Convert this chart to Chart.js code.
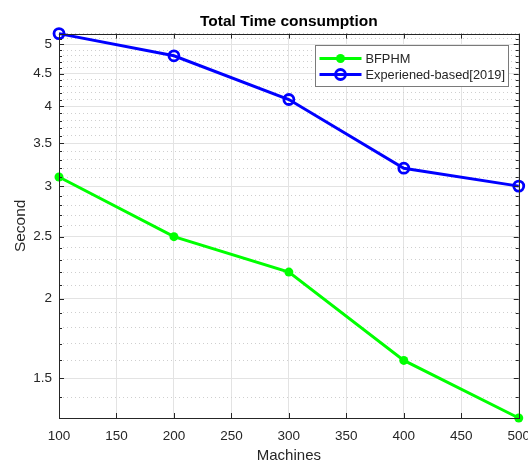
<!DOCTYPE html>
<html>
<head>
<meta charset="utf-8">
<script src="https://cdn.jsdelivr.net/npm/chart.js@4.4.1/dist/chart.umd.min.js"></script>
<style>
  html, body { margin: 0; padding: 0; background: #fff; overflow: hidden; width: 528px; height: 465px; }
  #wrap { width: 540px; height: 465px; }
</style>
</head>
<body>
<div id="wrap"><canvas id="chart" width="540" height="465"></canvas></div>
<script>
// values
const machines = [100, 200, 300, 400, 500];
const bfphm = [3.1, 2.5, 2.2, 1.6, 1.3];
const experienced = [5.2, 4.8, 4.1, 3.2, 3.0];
const seriesNames = ['BFPHM', 'Experiened-based[2019]'];
const yMajor = [1.5, 2, 2.5, 3, 3.5, 4, 4.5, 5];
const xTicks = [100, 150, 200, 250, 300, 350, 400, 450, 500];
const yMin = 1.3, yMax = 5.2;

// minor log ticks every 0.1 (matlab style)
var yMinor = [];
for (var v = 13; v <= 52; v++) yMinor.push(v / 10);

const font = "'Liberation Sans', Arial, sans-serif";
const axisColor = '#262626';

function pts(ys) {
    return machines.map((m, i) => ({ x: m, y: ys[i] }));
}

// box, inward tick marks and legend drawn on top of the chart area
const matlabBox = {
    id: 'matlabBox',
    afterDraw(chart) {
        const ctx = chart.ctx;
        const a = chart.chartArea;
        const xs = chart.scales.x, ys = chart.scales.y;
        ctx.save();
        ctx.strokeStyle = axisColor;
        ctx.lineWidth = 1;
        ctx.beginPath();
        xTicks.forEach(t => {
            const px = Math.round(xs.getPixelForValue(t)) + 0.5;
            ctx.moveTo(px, a.bottom); ctx.lineTo(px, a.bottom - 5);
            ctx.moveTo(px, a.top); ctx.lineTo(px, a.top + 5);
        });
        yMinor.forEach(t => {
            const py = Math.round(ys.getPixelForValue(t)) + 0.5;
            const len = yMajor.includes(t) ? 5 : 3;
            ctx.moveTo(a.left, py); ctx.lineTo(a.left + len, py);
            ctx.moveTo(a.right, py); ctx.lineTo(a.right - len, py);
        });
        ctx.stroke();
        ctx.strokeRect(Math.round(a.left) + 0.5, Math.round(a.top) + 0.5,
            Math.round(a.right - a.left), Math.round(a.bottom - a.top));

        // legend
        const bx = 315.5, by = 45.5, bw = 193, bh = 41;
        ctx.fillStyle = '#fff';
        ctx.fillRect(bx, by, bw, bh);
        ctx.strokeStyle = '#7a7a7a';
        ctx.strokeRect(bx, by, bw, bh);
        ctx.font = '12.8px ' + font;
        ctx.textBaseline = 'middle';
        chart.data.datasets.forEach((ds, i) => {
            const y = by + 13 + i * 16;
            ctx.strokeStyle = ds.borderColor;
            ctx.lineWidth = ds.borderWidth;
            ctx.beginPath();
            ctx.moveTo(bx + 4, y); ctx.lineTo(bx + 46, y);
            ctx.stroke();
            ctx.beginPath();
            ctx.arc(bx + 25, y, ds.pointRadius, 0, Math.PI * 2);
            if (ds.pointBackgroundColor !== 'transparent') {
                ctx.fillStyle = ds.pointBackgroundColor;
                ctx.fill();
            } else {
                ctx.lineWidth = ds.pointBorderWidth;
                ctx.stroke();
            }
            ctx.fillStyle = axisColor;
            ctx.fillText(ds.label, bx + 50, y + 1);
        });
        ctx.restore();
    }
};

const ctx = document.getElementById('chart').getContext('2d');
const myChart = new Chart(ctx, {
    type: 'line',
    data: {
        datasets: [{
            label: seriesNames[0],
            data: pts(bfphm),
            borderColor: '#00ff00',
            backgroundColor: '#00ff00',
            pointBackgroundColor: '#00ff00',
            pointBorderColor: '#00ff00',
            pointRadius: 4.5,
            pointBorderWidth: 0,
            borderWidth: 3,
            tension: 0
        }, {
            label: seriesNames[1],
            data: pts(experienced),
            borderColor: '#0000ff',
            backgroundColor: '#0000ff',
            pointBackgroundColor: 'transparent',
            pointBorderColor: '#0000ff',
            pointRadius: 5,
            pointBorderWidth: 2.8,
            borderWidth: 3,
            tension: 0
        }]
    },
    options: {
        responsive: false,
        animation: false,
        clip: false,
        layout: { padding: { left: 0, right: 0, top: 0, bottom: 0 } },
        plugins: {
            legend: { display: false },
            tooltip: { enabled: false },
            title: {
                display: true,
                text: 'Total Time consumption',
                fullSize: false,
                color: '#000',
                font: { family: font, size: 15.5, weight: 'bold' },
                padding: { top: 12, bottom: 3 }
            }
        },
        scales: {
            x: {
                type: 'linear',
                min: 100,
                max: 500,
                afterBuildTicks: s => { s.ticks = xTicks.map(v => ({ value: v })); },
                afterFit: s => { s.height = 47; },
                grid: { color: '#e3e3e3', drawTicks: false },
                border: { display: false },
                ticks: { color: axisColor, padding: 10, font: { family: font, size: 13.5 } },
                title: {
                    display: true, text: 'Machines', color: axisColor,
                    font: { family: font, size: 15 }, padding: { top: 1, bottom: 0 }
                }
            },
            y: {
                type: 'logarithmic',
                min: yMin,
                max: yMax,
                afterBuildTicks: s => { s.ticks = yMajor.map(v => ({ value: v })); },
                afterFit: s => { s.width = 59; },
                grid: { color: '#e3e3e3', drawTicks: false },
                border: { display: false },
                ticks: {
                    color: axisColor, padding: 7, font: { family: font, size: 13.5 },
                    callback: v => String(v)
                },
                title: {
                    display: true, text: 'Second', color: axisColor,
                    font: { family: font, size: 15.5 }, padding: { top: 11, bottom: 0 }
                }
            },
            yMinor: {
                type: 'logarithmic',
                position: 'right',
                min: yMin,
                max: yMax,
                afterBuildTicks: s => { s.ticks = yMinor.filter(v => !yMajor.includes(v)).map(v => ({ value: v })); },
                afterFit: s => { s.width = 0; },
                grid: { color: '#cfcfcf', drawTicks: false },
                border: { display: false, dash: [1, 3] },
                ticks: { display: false }
            }
        }
    },
    plugins: [matlabBox]
});
</script>
</body>
</html>
